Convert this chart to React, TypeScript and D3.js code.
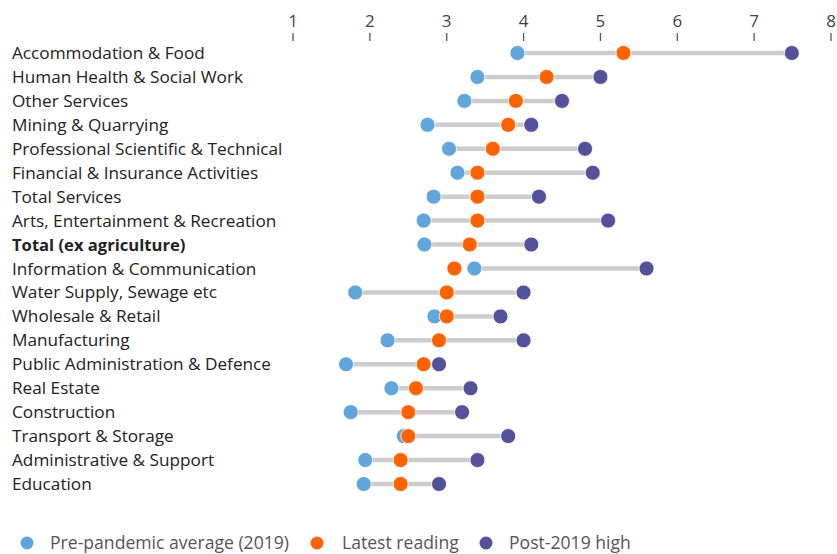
import React from "react";
import * as d3 from "d3";

const categories = [
  "Accommodation & Food",
  "Human Health & Social Work",
  "Other Services",
  "Mining & Quarrying",
  "Professional Scientific & Technical",
  "Financial & Insurance Activities",
  "Total Services",
  "Arts, Entertainment & Recreation",
  "Total (ex agriculture)",
  "Information & Communication",
  "Water Supply, Sewage etc",
  "Wholesale & Retail",
  "Manufacturing",
  "Public Administration & Defence",
  "Real Estate",
  "Construction",
  "Transport & Storage",
  "Administrative & Support",
  "Education",
];
const prePandemic = [3.92, 3.4, 3.23, 2.75, 3.03, 3.14, 2.83, 2.7, 2.71, 3.36, 1.81, 2.84, 2.23, 1.69, 2.28, 1.75, 2.44, 1.94, 1.92];
const latest = [5.3, 4.3, 3.9, 3.8, 3.6, 3.4, 3.4, 3.4, 3.3, 3.1, 3.0, 3.0, 2.9, 2.7, 2.6, 2.5, 2.5, 2.4, 2.4];
const postHigh = [7.49, 5.0, 4.5, 4.1, 4.8, 4.9, 4.2, 5.1, 4.1, 5.6, 4.0, 3.7, 4.0, 2.9, 3.31, 3.2, 3.8, 3.4, 2.9];
const ticks = [1, 2, 3, 4, 5, 6, 7, 8];
const boldCategory = "Total (ex agriculture)";
const legendLabels = ["Pre-pandemic average (2019)", "Latest reading", "Post-2019 high"];

const C_PRE = "#60a6da";
const C_LATEST = "#ff6200";
const C_HIGH = "#525199";
const FONT = "'Open Sans', 'Noto Sans', sans-serif";

export default function App() {
  const W = 837, H = 554;
  const x = d3.scaleLinear().domain([1, 8]).range([293, 831]);
  const y = d3.scalePoint<string>().domain(categories).range([53, 484]);
  const r = 7.5;
  const legendX = [27, 317, 486];
  const legendTextX = [50, 342, 509];
  const colors = [C_PRE, C_LATEST, C_HIGH];

  return (
    <svg width={W} height={H} style={{ position: "absolute", left: 0, top: 0, background: "#fff" }} fontFamily={FONT}>
      {ticks.map((t) => (
        <g key={t}>
          <text x={x(t)} y={27} textAnchor="middle" fontSize={17} fill="#444">{t}</text>
          <line x1={x(t)} x2={x(t)} y1={33} y2={41} stroke="#555" strokeWidth={1.3} />
        </g>
      ))}
      {categories.map((c, i) => {
        const yy = y(c)!;
        const bold = c === boldCategory;
        return (
          <g key={c}>
            <text x={12} y={yy + 6} fontSize={bold ? 16.6 : 17.2} fill="#222" fontWeight={bold ? 700 : 400}>{c}</text>
            <line x1={x(prePandemic[i])} x2={x(postHigh[i])} y1={yy} y2={yy} stroke="#cccccc" strokeWidth={4.5} />
            <circle cx={x(prePandemic[i])} cy={yy} r={r} fill={C_PRE} stroke="#fff" strokeWidth={0.8} />
            <circle cx={x(latest[i])} cy={yy} r={r} fill={C_LATEST} stroke="#fff" strokeWidth={0.8} />
            <circle cx={x(postHigh[i])} cy={yy} r={r} fill={C_HIGH} stroke="#fff" strokeWidth={0.8} />
          </g>
        );
      })}
      {legendLabels.map((l, i) => (
        <g key={l}>
          <circle cx={legendX[i]} cy={543} r={6.5} fill={colors[i]} />
          <text x={legendTextX[i]} y={549} fontSize={17.6} fill="#555">{l}</text>
        </g>
      ))}
    </svg>
  );
}
